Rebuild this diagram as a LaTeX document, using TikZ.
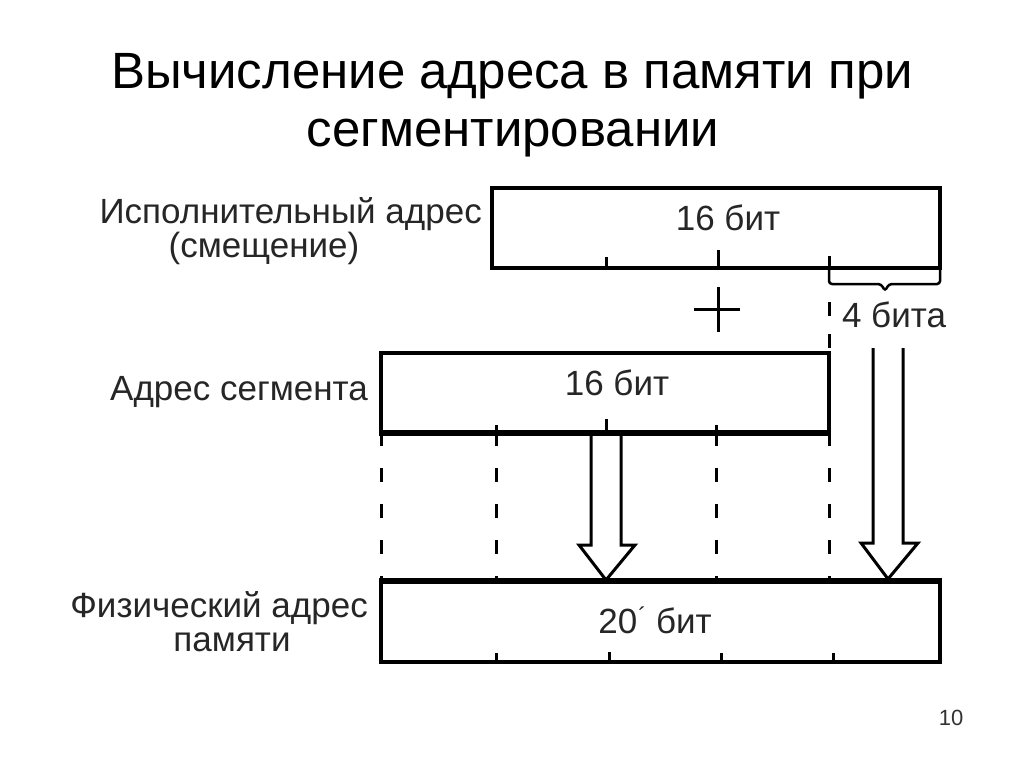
\documentclass[tikz,border=0pt]{standalone}
\usepackage{fontspec}
\setmainfont{Liberation Sans}
\usetikzlibrary{calc}
\begin{document}
\begin{tikzpicture}[x=1pt,y=-1pt,
  regbox/.style={draw=black, line width=4pt, inner sep=0pt, fill=white},
  tick/.style={line width=3pt},
  guide/.style={line width=3pt, dash pattern=on 14pt off 22pt},
  hollow/.style={line width=3pt, fill=white, line join=miter},
  lbl/.style={font=\fontsize{35}{40}\selectfont, text=black!85, inner sep=0pt},
  bits/.style={font=\fontsize{35}{40}\selectfont, text=black!85, inner sep=0pt},
  ttl/.style={font=\fontsize{51}{60}\selectfont, text=black, inner sep=0pt}]
\useasboundingbox[fill=white] (0,0) rectangle (1024,768);

% title
\node[ttl, anchor=base] (t1) at (512,88) {Вычисление адреса в памяти при};
\node[ttl, anchor=base] (t2) at (513,146) {сегментировании};

% boxes
\node[regbox, minimum width=448pt, minimum height=80pt] (b1) at (716,228) {};
\node[regbox, minimum width=448pt, minimum height=79pt] (b2) at (605,392.5) {};
\node[regbox, minimum width=559pt, minimum height=80pt] (b3) at (660.5,622) {};

\node[bits] (b1t) at (728,218) {16 бит};
\node[bits] (b2t) at (617,383) {16 бит};
\node[bits] (b3t) at (655,620) {20\hspace{1pt}\raisebox{9pt}{\fontsize{24}{24}\selectfont ´}\hspace{0pt} бит};

% labels
\node[lbl, anchor=base east] (l1a) at (482,223) {Исполнительный адрес};
\node[lbl, anchor=base] (l1b) at (264,257) {(смещение)};
\node[lbl, anchor=base east] (l2) at (368,400) {Адрес сегмента};
\node[lbl, anchor=base east] (l3a) at (368,617) {Физический адрес};
\node[lbl, anchor=base] (l3b) at (232,651) {памяти};

% ticks on box 1
\draw[tick] (606,268) -- (606,257);
\draw[tick] (718,268) -- (718,250);
\draw[tick] (829,268) -- (829,256);

% brace under last 4 bits
\draw[line width=2.5pt, rounded corners=3pt] (829,266) -- (829,284) -- (881,284) -- (885,291) -- (889,284) -- (940,284) -- (940,270);
\node[bits] (four) at (894,315) {4 бита};

% plus
\coordinate (pc) at (718,309);
\draw[line width=3pt] ($(pc)+(-24,0)$) -- ($(pc)+(22,0)$);
\draw[line width=3pt] ($(pc)+(0,-22)$) -- ($(pc)+(0,23)$);

% dashed separator from box1 to box2
\draw[line width=3pt, dash pattern=on 14pt off 18pt, dash phase=-6pt] (829,296) -- (829,353);

% ticks on box 2
\draw[tick] (496,432) -- (496,425);
\draw[tick] (606,432) -- (606,419);
\draw[tick] (716,432) -- (716,425);

% dashed guides between box2 and box3
\foreach \x in {381,496,716,829} {
  \draw[guide] (\x,432) -- (\x,582);
}

% ticks on box 3 bottom
\draw[tick] (496,662) -- (496,653);
\draw[tick] (609,662) -- (609,652);
\draw[tick] (721,662) -- (721,653);
\draw[tick] (833,662) -- (833,653);

% hollow arrows
\draw[hollow] (591,433) -- (591,545) -- (579,545) -- (606,580) -- (635,545) -- (621,545) -- (621,433);
\draw[hollow] (873,348) -- (873,543) -- (861,543) -- (888,579) -- (918,543) -- (903,543) -- (903,348);

% redraw box borders over arrows
\draw[line width=4pt] (b3.north west) -- (b3.north east);
\draw[line width=4pt] (b2.south west) -- (b2.south east);

% page number
\node[font=\fontsize{22}{26}\selectfont, text=black!80, inner sep=0pt] (pg) at (951,718) {10};
\end{tikzpicture}
\end{document}
